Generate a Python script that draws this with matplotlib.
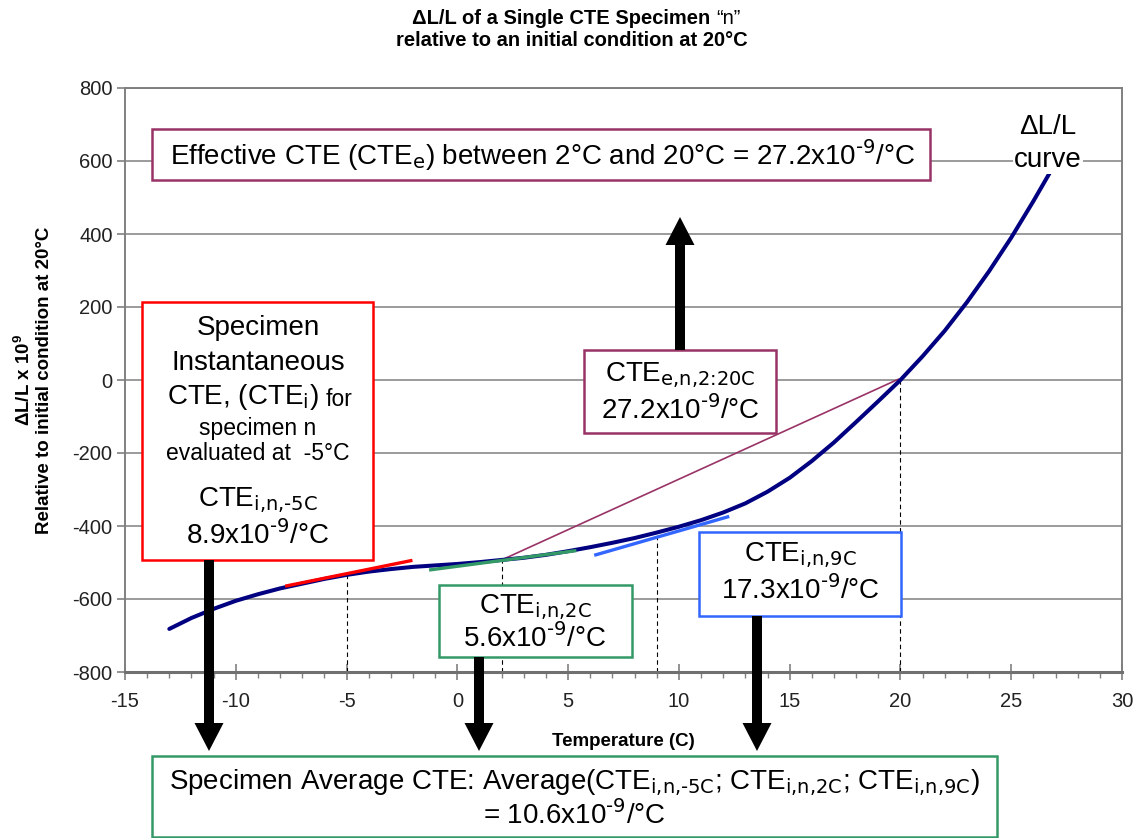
import numpy as np
import matplotlib
matplotlib.use('Agg')
import matplotlib.pyplot as plt
import matplotlib.transforms as mtransforms
from matplotlib.patches import Rectangle, FancyArrow

plt.rcParams['font.family'] = ['Liberation Sans', 'DejaVu Sans']
plt.rcParams['mathtext.default'] = 'regular'
plt.rcParams['axes.unicode_minus'] = False

W, H = 1136, 838

# dL/L curve (x1e9, relative to 20 C)
temps = [-13, -12, -11, -10, -9, -8, -7, -6, -5, -4, -3, -2, -1, 0, 1, 2, 3, 4, 5, 6,
         7, 8, 9, 10, 11, 12, 13, 14, 15, 16, 17, 18, 19, 20, 21, 22, 23, 24, 25, 26, 27]
dl = [-682, -652, -627, -605, -587, -571, -558, -545, -534, -525, -518, -512, -508, -504,
      -499, -493, -487, -479, -469, -458, -446, -433, -418, -402, -384, -363, -338, -306,
      -268, -222, -171, -115, -58, 0, 65, 135, 213, 298, 390, 490, 595]

# tangent segments (instantaneous CTE) and secant (effective CTE)
red_x, red_y = [-7.7, -2.1], [-564, -495]
green_x, green_y = [-1.2, 5.3], [-520, -468]
blue_x, blue_y = [6.25, 12.2], [-479, -375]
sec_x, sec_y = [2, 19.9], [-493, 2]

# evaluation temperatures marked with dashed lines
eval_t = [-5, 2, 9, 20]
eval_y = [-534, -493, -418, 0]

fig = plt.figure(figsize=(W / 100, H / 100), dpi=100)
ax = fig.add_axes([125 / W, 1 - 672 / H, 997 / W, 584 / H])

ax.plot(temps, dl, color='#000080', lw=2.9, solid_capstyle='round', zorder=4)
ax.plot(red_x, red_y, color='#ff0000', lw=2.4, zorder=5)
ax.plot(green_x, green_y, color='#339966', lw=2.4, zorder=5)
ax.plot(blue_x, blue_y, color='#3366ff', lw=2.4, zorder=5)
ax.plot(sec_x, sec_y, color='#993366', lw=1.2, zorder=3)
for t, v in zip(eval_t, eval_y):
    ax.plot([t, t], [-800, v], color='black', lw=0.8, ls=(0, (4, 3)), zorder=2)

ax.set_xlim(-15, 30)
ax.set_ylim(-800, 800)
ax.set_xticks(np.arange(-15, 31, 5))
ax.set_xticks(np.arange(-15, 31, 1), minor=True)
ax.set_yticks(np.arange(-800, 801, 200))
ax.yaxis.grid(True, color='#808080', lw=1.1)
ax.set_axisbelow(True)
for s in ['top', 'right', 'left']:
    ax.spines[s].set_color('#808080')
    ax.spines[s].set_linewidth(1.4)
ax.spines['bottom'].set_color('#707070')
ax.spines['bottom'].set_linewidth(2.2)
ax.tick_params(axis='y', which='major', direction='out', length=6, color='#808080',
               labelsize=14.5, labelcolor='#222222', width=1.2, pad=3)
ax.tick_params(axis='x', which='major', direction='inout', length=11, color='#808080',
               labelsize=14.5, labelcolor='#222222', width=1.2, pad=9)
ax.tick_params(axis='x', which='minor', direction='out', length=4, color='#808080', width=1)
ax.tick_params(axis='y', which='minor', length=0)

ax.set_xlabel('Temperature (C)', fontsize=13.5, fontweight='bold')
ax.xaxis.set_label_coords(0.5, -0.105)
ax.set_ylabel('ΔL/L x 10$^{9}$\nRelative to initial condition at 20°C',
              fontsize=13.5, fontweight='bold', linespacing=1.2)
ax.yaxis.set_label_coords(-0.072, 0.5)

# pixel coordinates (top-left origin) for the annotation layer
px = mtransforms.Affine2D().scale(1 / W, -1 / H).translate(0, 1) + fig.transFigure

t1 = fig.text(576 - 12, 18, 'ΔL/L of a Single CTE Specimen ', transform=px, ha='center',
              va='center', fontsize=14.5, fontweight='bold')
ax.annotate('“n”', xy=(1, 0), xycoords=t1, va='bottom', ha='left', fontsize=14.5,
            annotation_clip=False)
fig.text(572, 41, 'relative to an initial condition at 20°C', transform=px, ha='center',
         va='center', fontsize=14.5, fontweight='bold')


def box(x0, y0, x1, y1, color):
    fig.patches.append(Rectangle((x0, y0), x1 - x0, y1 - y0, transform=px, facecolor='white',
                                 edgecolor=color, lw=1.8, zorder=5))


def line(x, y, s, size=20, ha='center'):
    fig.text(x, y, s, transform=px, ha=ha, va='center', fontsize=size, zorder=6)


def arrow(x, y0, y1):
    fig.patches.append(FancyArrow(x, y0, 0, y1 - y0, width=10, head_width=29, head_length=28,
                                  length_includes_head=True, transform=px, color='black',
                                  lw=0, zorder=7))


sup9 = r'x10$^{\text{-9}}$/°C'

box(152, 129, 930, 180, '#993366')
line(543, 155, r'Effective CTE (CTE$_{\text{e}}$) between 2°C and 20°C = 27.2' + sup9)

box(142, 302, 373, 560, '#ff0000')
line(258, 328, 'Specimen')
line(258, 363, 'Instantaneous')
line(319, 397, r'CTE, (CTE$_{\text{i}}$)', ha='right')
line(326, 399, 'for', 16.5, ha='left')
line(258, 428, 'specimen n', 16.5)
line(258, 453, 'evaluated at  -5°C', 16.5)
line(258, 500, r'CTE$_{\text{i,n,-5C}}$')
line(258, 535, '8.9' + sup9)

box(584, 350, 776, 433, '#993366')
line(680, 375, r'CTE$_{\text{e,n,2:20C}}$')
line(680, 410, '27.2' + sup9)

box(439, 585, 632, 657, '#339966')
line(535, 607, r'CTE$_{\text{i,n,2C}}$')
line(535, 638, '5.6' + sup9)

box(699, 532, 901, 616, '#3366ff')
line(800, 555, r'CTE$_{\text{i,n,9C}}$')
line(800, 590, '17.3' + sup9)

box(152, 756, 997, 837, '#339966')
line(574, 783, r'Specimen Average CTE: Average(CTE$_{\text{i,n,-5C}}$; '
     r'CTE$_{\text{i,n,2C}}$; CTE$_{\text{i,n,9C}}$)')
line(574, 815, '= 10.6' + sup9)

fig.text(1048, 127, 'ΔL/L', transform=px, ha='center', va='center', fontsize=20, zorder=6,
         bbox=dict(facecolor='white', edgecolor='none', pad=1))
fig.text(1048, 160, 'curve', transform=px, ha='center', va='center', fontsize=20, zorder=6,
         bbox=dict(facecolor='white', edgecolor='none', pad=1))

arrow(680, 350, 217)
arrow(209, 560, 751)
arrow(479, 657, 751)
arrow(757, 616, 751)

fig.savefig('out.png', dpi=100)
